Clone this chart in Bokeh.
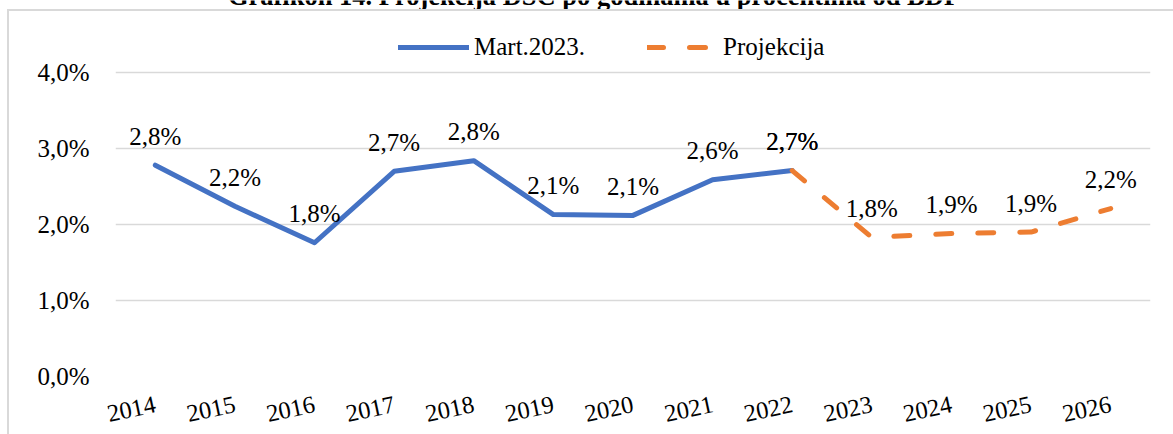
from bokeh.plotting import figure
from bokeh.models import (FactorRange, Range1d, FixedTicker, Label, Legend, LegendItem,
                          ColumnDataSource)
from bokeh.embed import file_html
from bokeh.resources import INLINE
from bokeh.core.properties import value

# ---- data ----
years = ["2014", "2015", "2016", "2017", "2018", "2019", "2020",
         "2021", "2022", "2023", "2024", "2025", "2026"]
actual_years = years[:9]
actual_vals = [2.78, 2.24, 1.76, 2.70, 2.84, 2.13, 2.12, 2.59, 2.71]
proj_years = years[8:]
proj_vals = [2.71, 1.83, 1.88, 1.90, 2.21]
y_ticks = [0, 1, 2, 3, 4]
y_tick_labels = ["0,0%", "1,0%", "2,0%", "3,0%", "4,0%"]
title_text = "Grafikon 14. Projekcija DSC po godinama u procentima od BDP"
series_names = ["Mart.2023.", "Projekcija"]

FONT = "'Liberation Serif', 'Times New Roman', serif"
BLUE = "#4472C4"
ORANGE = "#ED7D31"
GRID = "#d9d9d9"

def fmt(v):
    return ("%.1f" % v).replace(".", ",") + "%"

W, H = 1173, 434
# frame: x 115..1150, y 0..376 ; value 4.0 sits 72px from the top
y_top = 4 + 72 / 76.0
p = figure(width=W, height=H, output_backend="svg", toolbar_location=None,
           x_range=FactorRange(*years, range_padding=0),
           y_range=Range1d(0, y_top),
           min_border_left=115, min_border_right=23, min_border_top=0, min_border_bottom=58)
p.background_fill_color = "white"
p.border_fill_color = "white"
p.outline_line_color = None
# light-grey chart-area border (top and left edges visible in the crop)
p.stylesheets = [":host::after { content: ''; position: absolute; left: 7px; top: 9px; "
                 "right: 0px; bottom: 0px; border-top: 2px solid #d9d9d9; "
                 "border-left: 2px solid #d9d9d9; pointer-events: none; }"]

# axes
p.yaxis.ticker = FixedTicker(ticks=y_ticks)
p.yaxis.major_label_overrides = {t: l for t, l in zip(y_ticks, y_tick_labels)}
p.yaxis.axis_line_color = None
p.yaxis.major_tick_line_color = None
p.yaxis.major_tick_out = 0
p.yaxis.major_tick_in = 0
p.yaxis.minor_tick_line_color = None
p.yaxis.major_label_standoff = 26
p.yaxis.major_label_text_font = FONT
p.yaxis.major_label_text_font_size = "25px"
p.yaxis.major_label_text_color = "black"

p.xaxis.axis_line_color = None
p.xaxis.major_tick_line_color = None
p.xaxis.major_tick_out = 0
p.xaxis.major_tick_in = 0
p.xaxis.major_label_orientation = 0.21
p.xaxis.major_label_standoff = 27
p.xaxis.major_label_text_font = FONT
p.xaxis.major_label_text_font_size = "24.5px"
p.xaxis.major_label_text_color = "black"

p.xgrid.grid_line_color = None
p.ygrid.ticker = FixedTicker(ticks=y_ticks)
p.ygrid.grid_line_color = GRID
p.ygrid.grid_line_width = 1.5

# lines
src_a = ColumnDataSource(dict(x=actual_years, y=actual_vals, t=[fmt(v) for v in actual_vals]))
src_p = ColumnDataSource(dict(x=proj_years, y=proj_vals, t=[fmt(v) for v in proj_vals]))
r_a = p.line("x", "y", source=src_a, line_color=BLUE, line_width=5,
             line_join="round", line_cap="round")
r_p = p.line("x", "y", source=src_p, line_color=ORANGE, line_width=5,
             line_join="round", line_cap="round", line_dash="16 26")

for src in (src_a, src_p):
    p.text("x", "y", text="t", source=src, y_offset=-29, text_align="center",
           text_baseline="alphabetic", text_font=value(FONT), text_font_size="25px",
           text_color="black")

# title (mostly above the visible area, as in the reference crop)
px_per_cat = (1150 - 115) / len(years)
p.add_layout(Label(x=(593.5 - 115) / px_per_cat, y=y_top + 5 / 76.0, text=title_text,
                   text_align="center", text_baseline="alphabetic", text_font=FONT,
                   text_font_style="bold", text_font_size="26.5px", text_color="black"))

legend = Legend(items=[LegendItem(label=series_names[0], renderers=[r_a]),
                       LegendItem(label=series_names[1], renderers=[r_p])],
                orientation="horizontal", location=(398 - 115, 376 - 61),
                glyph_width=71, glyph_height=20, label_standoff=5, spacing=62,
                padding=0, margin=0, border_line_color=None, background_fill_alpha=0,
                label_text_font=FONT, label_text_font_size="25px", label_text_color="black")
p.add_layout(legend)

open("out.html", "w").write(file_html(p, INLINE))
